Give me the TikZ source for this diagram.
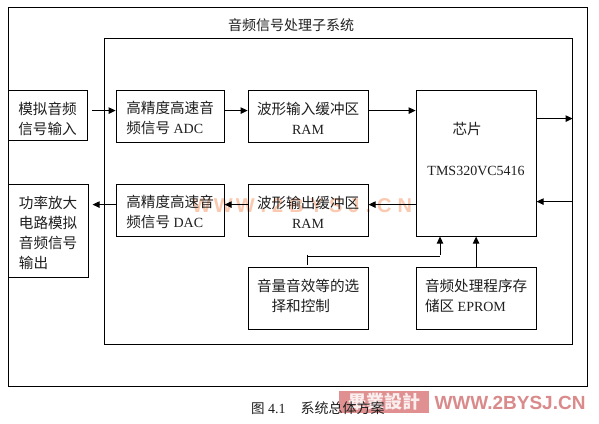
\documentclass[tikz,border=0pt]{standalone}
\usepackage{fontspec}
\setmainfont{Liberation Serif}
\setsansfont{Liberation Sans}
\newfontfamily\cjk{Noto Sans CJK SC}
\usetikzlibrary{arrows.meta}
\newcommand{\zh}[1]{{\cjk\fontsize{14.6}{20}\selectfont #1}}
\newcommand{\zhs}[1]{{\cjk #1}}
\newcommand{\dn}[1]{\rule{0pt}{#1pt}}
\definecolor{wmlight}{HTML}{FAC9B0}
\definecolor{wmred}{HTML}{DA8A8A}
\definecolor{wmbox}{HTML}{E09090}
\tikzset{
  x=1pt,y=-1pt,
  frame/.style={draw=black,line width=1pt,fill=none,inner sep=0pt,anchor=north west},
  boxnode/.style={frame,font=\fontsize{14}{20}\selectfont,align=left,text=black!88},
  lbl/.style={font=\fontsize{14}{20}\selectfont,inner sep=0pt,text=black!88},
  conn/.style={draw=black,line width=1pt,-{Triangle[length=7pt,width=6.5pt]}},
  plain/.style={draw=black,line width=1pt},
  wmtext/.style={inner sep=0pt,font=\sffamily\bfseries},
}
\begin{document}
\begin{tikzpicture}
\useasboundingbox (0,0) rectangle (599,423);
\fill[white] (0,0) rectangle (599,423);
% watermarks
\node[wmtext,text=wmlight,font=\sffamily\bfseries\fontsize{20}{20}\selectfont] (wma) at (302,206) {W\hspace{3pt}W\hspace{3pt}W\hspace{6pt}.\hspace{6pt}2\hspace{6pt}B\hspace{6pt}Y\hspace{6pt}S\hspace{6pt}J\hspace{6pt}.\hspace{6pt}C\hspace{6pt}N};
\node[fill=wmbox,minimum width=90pt,minimum height=22pt,inner sep=0pt,text=white!85!wmbox] (wmb) at (384,402) {\cjk\bfseries\fontsize{18}{18}\selectfont 畢業設計};
\node[wmtext,text=wmred,font=\sffamily\bfseries\fontsize{19}{19}\selectfont] (wmc) at (510,403) {WWW.2BYSJ.CN};
\begin{scope}[shift={(-0.9,-0.9)}]
% frames
\node[frame,minimum width=579pt,minimum height=379.5pt] (sys) at (8.5,7.5) {};
\node[frame,minimum width=468pt,minimum height=306pt] (sub) at (104.5,38.5) {};
\node[lbl] (title) at (291.9,26) {\zhs{\fontsize{14}{20}\selectfont 音频信号处理子系统}};
% boxes
\node[boxnode,minimum width=79pt,minimum height=50.5pt] (in) at (8.5,90.5) {\dn{20}\zh{模拟音频}\\\zh{信号输入}};
\node[boxnode,minimum width=108pt,minimum height=52pt] (adc) at (116.5,90.5) {\dn{17}\zh{高精度高速音}\\\zh{频信号} ADC};
\node[boxnode,minimum width=120pt,minimum height=52pt,align=center] (ramin) at (248.5,90.5) {\dn{17}\zh{波形输入缓冲区}\\RAM};
\node[boxnode,minimum width=120pt,minimum height=146pt,align=center] (chip) at (416.5,90.5) {\hspace*{-18pt}\zh{芯片}\\[21pt]TMS320VC5416\\[8pt]~};
\node[boxnode,minimum width=80pt,minimum height=93.5pt] (out) at (8.5,184.5) {\dn{16}\zh{功率放大}\\\zh{电路模拟}\\\zh{音频信号}\\\zh{输出}};
\node[boxnode,minimum width=108pt,minimum height=52pt] (dac) at (116.5,184.5) {\dn{17}\zh{高精度高速音}\\\zh{频信号} DAC};
\node[boxnode,minimum width=120pt,minimum height=52pt,align=center] (ramout) at (248.5,184.5) {\dn{17}\zh{波形输出缓冲区}\\RAM};
\node[boxnode,minimum width=120pt,minimum height=62.5pt] (vol) at (248.5,267.5) {\zh{音量音效等的选}\\\hspace*{14.6pt}\zh{择和控制}\\[-14pt]~};
\node[boxnode,minimum width=120pt,minimum height=62.5pt] (eprom) at (416.5,267.5) {\zh{音频处理程序存}\\\zh{储区} EPROM\\[-14pt]~};
% caption
\node[lbl,anchor=west] (cap) at (251.9,409.5) {\zhs{\fontsize{13.5}{20}\selectfont 图} 4.1\hspace{15pt}\zhs{\fontsize{14}{20}\selectfont 系统总体方案}};
% connector levels
\coordinate (ya) at (0,111.5);
\coordinate (yb) at (0,119.5);
\coordinate (yc) at (0,202.5);
\coordinate (yd) at (0,205.5);
\coordinate (tip) at (308.5,265.5);
\coordinate (tit) at (308.5,255.5);
\coordinate (bus) at (440.9,257.5);
\coordinate (up) at (440.9,255.5);
% connectors
\draw[conn,shorten <=4.5pt] (in.east |- ya) -- (adc.west |- ya);
\draw[conn] (adc.east |- ya) -- (ramin.west |- ya);
\draw[conn] (ramin.east |- ya) -- (chip.west |- ya);
\draw[conn] (chip.east |- yb) -- (sub.east |- yb);
\draw[conn] (sub.east |- yc) -- (chip.east |- yc);
\draw[conn] (chip.west |- yd) -- (ramout.east |- yd);
\draw[conn] (ramout.west |- yd) -- (dac.east |- yd);
\draw[conn,shorten >=4pt] (dac.west |- yd) -- (out.east |- yd);
\draw[conn] (eprom.north) -- (chip.south -| eprom.north);
\draw[plain] (tit) -- (tip);
\draw[plain] (bus -| tip) -- (bus);
\draw[conn] (up) -- (chip.south -| up);
\end{scope}
\end{tikzpicture}
\end{document}
